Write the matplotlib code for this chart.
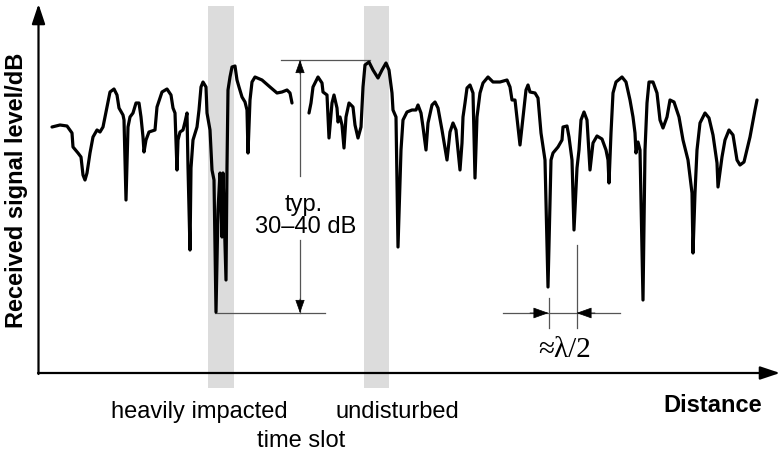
import numpy as np
import matplotlib
matplotlib.use("Agg")
import matplotlib.pyplot as plt

plt.rcParams['font.family'] = ['Liberation Sans', 'DejaVu Sans']

# fading trace, distance (arbitrary units) vs received level (arbitrary dB scale)
dist_a = [52, 60, 67, 72, 73, 78, 81, 83, 85, 87, 90, 93, 97, 100, 103, 107, 110, 114, 117, 119,
          123, 124, 126, 128, 130, 133, 136, 139, 141, 143, 144, 146, 149, 155, 157, 162, 167, 171,
          173, 175, 177, 178, 180, 183, 185, 187, 188, 190, 191, 193, 197, 199, 201, 203, 206, 207,
          210, 212, 214, 216, 218, 220, 222, 223, 226, 227, 228, 230, 232, 235, 237, 239, 242, 245,
          247, 248, 250, 252, 255, 262, 270, 277, 282, 287, 290, 292]
level_a = [327, 329, 328, 321, 307, 301, 297, 279, 274, 281, 301, 317, 324, 322, 327, 347, 362, 365,
           359, 346, 339, 334, 254, 327, 337, 341, 351, 351, 337, 317, 302, 314, 322, 324, 347, 362,
           365, 359, 346, 341, 284, 314, 322, 324, 332, 341, 287, 204, 286, 314, 327, 344, 367, 372,
           367, 341, 324, 284, 274, 142, 244, 281, 217, 281, 174, 287, 364, 377, 387, 388, 374, 367,
           357, 352, 344, 301, 354, 372, 377, 374, 367, 361, 362, 364, 361, 351]

dist_b = [309, 311, 313, 318, 322, 323, 327, 329, 332, 334, 337, 338, 340, 342, 344, 346, 349, 353,
          355, 358, 361, 363, 365, 369, 373, 378, 382, 386, 389, 392, 393, 396, 398, 401, 403, 407,
          412, 416, 418, 421, 423, 426, 428, 432, 435, 438, 442, 447, 450, 453, 456, 458, 460, 462,
          463, 465, 467, 470, 473, 475, 477, 480, 483, 488, 493, 500, 507, 510, 512, 515, 518, 520,
          523, 526, 528, 530, 535, 538, 541, 545, 548, 551, 553, 558, 562, 563, 567, 569, 572, 574,
          577, 579, 581, 584, 587, 588, 590, 593, 597, 602, 606, 608, 609, 611, 613, 616, 622, 626,
          630, 633, 635, 636, 638, 640, 643, 645, 647, 649, 653, 657, 660, 663, 667, 670, 674, 679,
          683, 688, 692, 693, 695, 697, 700, 705, 709, 713, 717, 718, 722, 725, 729, 733, 737, 740,
          744, 750, 755, 757]
level_b = [341, 351, 367, 377, 371, 362, 359, 316, 351, 359, 346, 332, 337, 329, 306, 337, 351, 347,
           329, 316, 327, 367, 389, 392, 384, 376, 384, 391, 384, 361, 344, 337, 207, 304, 334, 342,
           344, 344, 349, 341, 327, 304, 331, 349, 352, 346, 324, 294, 322, 331, 324, 304, 284, 311,
           337, 351, 366, 369, 361, 276, 337, 361, 371, 377, 372, 372, 374, 367, 354, 354, 327, 309,
           337, 364, 369, 362, 361, 356, 321, 294, 167, 294, 301, 307, 314, 327, 328, 317, 294, 224,
           286, 304, 334, 342, 334, 317, 284, 311, 318, 315, 304, 294, 271, 321, 361, 372, 377, 372,
           354, 337, 321, 301, 312, 304, 154, 304, 351, 372, 372, 361, 334, 326, 337, 354, 352, 337,
           314, 294, 261, 201, 261, 304, 331, 341, 336, 319, 291, 267, 297, 314, 324, 319, 294, 289,
           292, 317, 344, 354]

# shaded time slots (distance ranges) and their labels
slots = [(208, 234), (364, 389)]
slot_labels = ["heavily impacted", "undisturbed"]

fig = plt.figure(figsize=(7.8, 4.54), dpi=100)
ax = fig.add_axes([0, 0, 1, 1])
ax.set_xlim(0, 780)
ax.set_ylim(0, 454)
ax.axis('off')

for x0, x1 in slots:
    ax.fill_between([x0, x1], 66, 448, color='#dcdcdc', lw=0, zorder=0)

for d, l in [(dist_a, level_a), (dist_b, level_b)]:
    ax.plot(d, l, color='black', lw=2.3, solid_joinstyle='round',
            solid_capstyle='round', zorder=3)

# axes with arrows
big = dict(arrowstyle='-|>,head_length=0.6,head_width=0.2', color='black', lw=1.6,
           mutation_scale=20, shrinkA=0, shrinkB=0)
ax.annotate('', xy=(780, 81), xytext=(38, 81), arrowprops=big, zorder=4)
ax.annotate('', xy=(38.5, 450), xytext=(38.5, 80), arrowprops=big, zorder=4)


def head(tip, tail, size=12):
    ax.annotate('', xy=tip, xytext=tail,
                arrowprops=dict(arrowstyle='-|>,head_length=0.7,head_width=0.25',
                                color='black', lw=0.5, mutation_scale=size,
                                shrinkA=0, shrinkB=0), zorder=5)


thin = dict(color='#555555', lw=0.9, zorder=2)
# 30-40 dB range marker
ax.plot([281, 370], [394, 394], **thin)
ax.plot([215, 325], [141, 141], **thin)
ax.plot([300, 300], [278, 394], **thin)
ax.plot([300, 300], [141, 214], **thin)
head((300, 394), (300, 380))
head((300, 141), (300, 155))
ax.text(304, 243, "typ.", fontsize=17, ha='center', va='baseline')
ax.text(306, 221, "30\u201340 dB", fontsize=17, ha='center', va='baseline')

# lambda/2 spacing marker
ax.plot([548.5, 548.5], [126, 156], **thin)
ax.plot([576.5, 576.5], [126, 209], **thin)
ax.plot([503, 620], [141, 141], **thin)
head((548.5, 141), (530, 141), size=14)
head((576.5, 141), (595, 141), size=14)
ax.text(565, 97, "\u2248\u03bb/2", fontsize=21, ha='center', va='baseline',
        family=['Liberation Serif', 'DejaVu Serif'])

# labels
centers = [199.5, 397]
for c, lab in zip(centers, slot_labels):
    ax.text(c, 36, lab, fontsize=17, ha='center', va='baseline')
ax.text(301, 7, "time slot", fontsize=17, ha='center', va='baseline')
ax.text(713, 42, "Distance", fontsize=17, fontweight='bold', ha='center', va='baseline')
ax.text(17, 264, "Received signal level/dB", fontsize=17, fontweight='bold',
        rotation=90, ha='center', va='center')

fig.savefig("out.png", dpi=100)
